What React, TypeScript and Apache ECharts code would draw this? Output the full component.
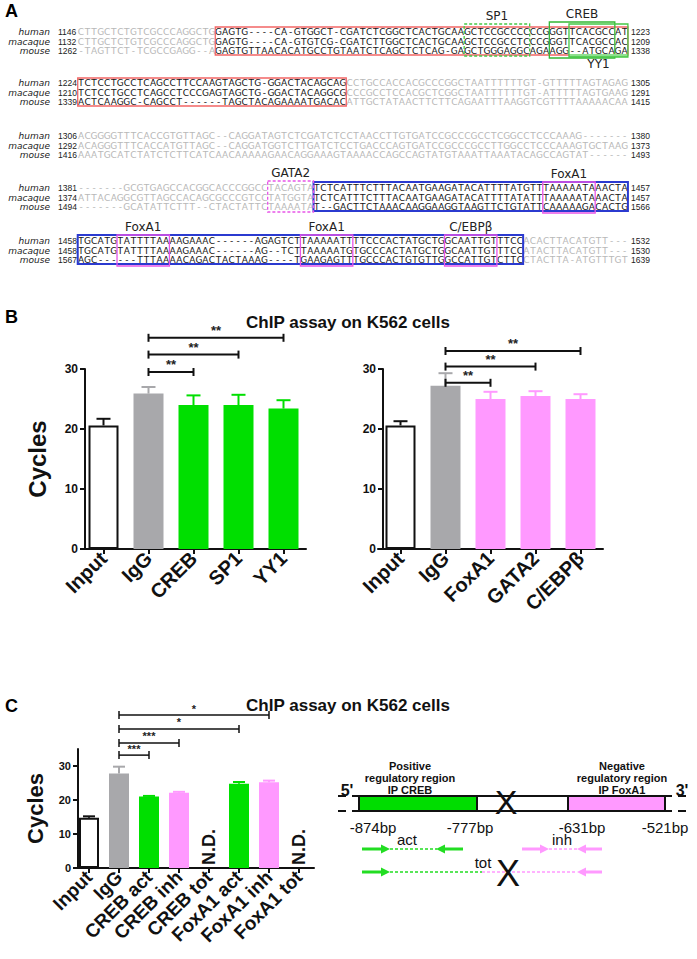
import React, { useEffect, useRef } from "react";
import * as echarts from "echarts";

const SANS = "'Liberation Sans', Arial, Helvetica, sans-serif";
const SEQF = "'DejaVu Sans', 'Liberation Sans', sans-serif";

// ---------------- Panel A data ----------------
const speciesNames = ["human", "macaque", "mouse"];
const seqStarts = [
  [1146, 1132, 1262],
  [1224, 1210, 1339],
  [1306, 1292, 1416],
  [1381, 1374, 1494],
  [1458, 1458, 1567],
];
const seqEnds = [
  [1223, 1209, 1338],
  [1305, 1291, 1415],
  [1380, 1373, 1493],
  [1457, 1457, 1566],
  [1532, 1530, 1639],
];
const seqRows = [
  [
    "CTTGCTCTGTCGCCCAGGCTGGAGTG----CA-GTGGCT-CGATCTCGGCTCACTGCAAGCTCCGCCCCCCGGGTTCACGCCAT",
    "CTTGCTCTGTCGCCCAGGCTGGAGTG----CA-GTGTCG-CGATCTTGGCTCACTGCAAGCTCCGCCTCCCGGGTTCACGCCAC",
    "-TAGTTCT-TCGCCGAGG--AGAGTGTTAACACATGCCTGTAATCTCAGCTCTCAG-GAGCTGGGAGGCAGAAGG--ATGCAGA",
  ],
  [
    "TCTCCTGCCTCAGCCTTCCAAGTAGCTG-GGACTACAGCAGCCTGCCACCACGCCCGGCTAATTTTTTGT-GTTTTTAGTAGAG",
    "TCTCCTGCCTCAGCCTCCCGAGTAGCTG-GGACTACAGGCGCCCGCCTCCACGCTCGGCTAATTTTTTGT-ATTTTTAGTGAAG",
    "ACTCAAGGC-CAGCCT------TAGCTACAGAAAATGACACATTGCTATAACTTCTTCAGAATTTAAGGTCGTTTTAAAAACAA",
  ],
  [
    "ACGGGGTTTCACCGTGTTAGC--CAGGATAGTCTCGATCTCCTAACCTTGTGATCCGCCCGCCTCGGCCTCCCAAAG-------",
    "ACAGGGTTTCACCATGTTAGC--CAGGATGGTCTTGATCTCCTGACCCAGTGATCCGCCCGCCTTGGCCTCCCAAAGTGCTAAG",
    "AAATGCATCTATCTCTTCATCAACAAAAAGAACAGGAAAGTAAAACCAGCCAGTATGTAAATTAAATACAGCCAGTAT------",
  ],
  [
    "-------GCGTGAGCCACGGCACCCGGCCTACAGTATCTCATTTCTTTACAATGAAGATACATTTTATGTTTAAAAATAAACTA",
    "ATTACAGGCGTTAGCCACAGCGCCCGTCCTATGGTATCTCATTTCTTTACAATGAAGATACATTTTATATTTAAAAATAAACTA",
    "-------GCATATTCTTT--CTACTATTCTAAAATAT--GACTTCTAAACAAGGAAGGTAAGTTCTGTATTCAAAAAGACACTG",
  ],
  [
    "TGCATGTATTTTAAAAGAAAC------AGAGTCTTAAAAATTTTCCCACTATGCTGGCAATTGTTTCCACACTTACATGTT---",
    "TGCATGTATTTTAAAAGAAAC------AG--TCTTAAAAATGTGCCCACTATGCTGGCAATTGTTTCCATACTTACATGTT---",
    "AGC------TTTAAAACAGACTACTAAAG----TGAAGAGTTTGCCCACTGTGTTGGCCATTGTCTTCCTACTTA-ATGTTTGT",
  ],
];
// column ranges printed dark (the boxed regions)
const darkRanges: (number[] | null)[] = [[21, 83], [0, 40], null, [36, 83], [0, 67]];
// sites: [block, firstCol, lastCol, kind, label, labelSide]
const siteBoxes: [number, number, number, string, string, string][] = [
  [0, 21, 83, "region", "", ""],
  [0, 59, 68, "sp1", "SP1", "top"],
  [0, 72, 81, "creb", "CREB", "top"],
  [0, 75, 83, "yy1", "YY1", "bottom"],
  [1, 0, 40, "region", "", ""],
  [3, 36, 83, "blue", "", ""],
  [3, 29, 35, "gata", "GATA2", "top"],
  [3, 71, 78, "fox", "FoxA1", "top"],
  [4, 0, 67, "blue", "", ""],
  [4, 6, 13, "fox", "FoxA1", "top"],
  [4, 34, 41, "fox", "FoxA1", "top"],
  [4, 56, 63, "fox", "C/EBPβ", "top"],
];

// ---------------- Panel B data ----------------
const bLeftCats = ["Input", "IgG", "CREB", "SP1", "YY1"];
const bLeftVals = [20.6, 25.9, 24.0, 24.0, 23.4];
const bLeftErr = [1.1, 1.1, 1.6, 1.7, 1.4];
const bLeftKinds = ["input", "igg", "green", "green", "green"];
const bLeftSig = [[1, 2, 29.5], [1, 3, 32.4], [1, 4, 35.2]];
const bLeftSigText = ["**", "**", "**"];

const bRightCats = ["Input", "IgG", "FoxA1", "GATA2", "C/EBPβ"];
const bRightVals = [20.6, 27.2, 25.0, 25.5, 25.0];
const bRightErr = [0.7, 2.1, 1.2, 0.8, 0.8];
const bRightKinds = ["input", "igg", "pink", "pink", "pink"];
const bRightSig = [[1, 2, 27.7], [1, 3, 30.4], [1, 4, 33.0]];
const bRightSigText = ["**", "**", "**"];

// ---------------- Panel C data ----------------
const cCats = ["Input", "IgG", "CREB act", "CREB inh", "CREB tot", "FoxA1 act", "FoxA1 inh", "FoxA1 tot"];
const cVals = [14.8, 27.8, 21.0, 22.1, null, 24.8, 25.2, null];
const cErr = [0.4, 2.0, 0.2, 0.3, null, 0.5, 0.5, null];
const cKinds = ["input", "igg", "green", "pink", "none", "green", "pink", "none"];
const cSig = [[1, 2, 33.2], [1, 3, 36.8], [1, 5, 40.9], [1, 6, 45.0]];
const cSigText = ["***", "***", "*", "*"];
const cNotDetected = [4, 7];
const yTicks = [0, 10, 20, 30];

const bpLabels = ["-874bp", "-777bp", "-631bp", "-521bp"];

// ---------------- styles ----------------
const COLORS: Record<string, string> = {
  input: "#ffffff",
  igg: "#a8a8ab",
  green: "#00df00",
  pink: "#ff99ff",
  none: "#ffffff",
};
const ERRCOL: Record<string, string> = {
  input: "#111111",
  igg: "#a8a8ab",
  green: "#00df00",
  pink: "#ff99ff",
  none: "#ffffff",
};
const BOXSTYLE: Record<string, any> = {
  region: { stroke: "#f26565", lw: 1.3, dash: null, top: 5, bot: 4 },
  sp1: { stroke: "#45c845", lw: 1.3, dash: [3, 2], top: 8, bot: 5 },
  creb: { stroke: "#35b835", lw: 1.3, dash: null, top: 10, bot: 7 },
  yy1: { stroke: "#45c845", lw: 1.3, dash: null, top: 8, bot: 6 },
  blue: { stroke: "#2b3ad0", lw: 2, dash: null, top: 6, bot: 4 },
  gata: { stroke: "#e855e8", lw: 1.3, dash: [3, 2], top: 7, bot: 5 },
  fox: { stroke: "#e855e8", lw: 1.3, dash: null, top: 6, bot: 6 },
};

function txt(x: number, y: number, text: string, font: string, fill = "#111", align = "center", vAlign = "middle", extra: any = {}) {
  return {
    type: "text",
    x,
    y,
    silent: true,
    ...extra,
    style: { text, font, fill, textAlign: align, textVerticalAlign: vAlign, align, verticalAlign: vAlign },
  };
}

function buildPanelA(): any[] {
  const X0 = 81;
  const PITCH = 6.55;
  const ROW = 9.5;
  const blockY = [32, 83, 136, 188, 241];
  const els: any[] = [];
  els.push(txt(5, 11, "A", `bold 18px ${SANS}`, "#000", "left"));
  blockY.forEach((by, b) => {
    for (let r = 0; r < 3; r++) {
      const y = by + r * ROW;
      els.push(txt(50, y, speciesNames[r], `italic 9px ${SEQF}`, "#222", "right"));
      els.push(txt(58, y, String(seqStarts[b][r]), `8.5px ${SANS}`, "#222", "left"));
      els.push(txt(631, y, String(seqEnds[b][r]), `8.5px ${SANS}`, "#222", "left"));
      const s = seqRows[b][r];
      const dr = darkRanges[b];
      for (let c = 0; c < s.length; c++) {
        const dark = dr && c >= dr[0] && c <= dr[1];
        els.push(txt(X0 + c * PITCH, y, s[c], `9px ${SEQF}`, dark ? "#151515" : "#b8b8b8"));
      }
    }
  });
  siteBoxes.forEach(([b, c0, c1, kind, label, side]) => {
    const st = BOXSTYLE[kind];
    const by = blockY[b];
    const x1 = X0 + c0 * PITCH - PITCH / 2;
    const x2 = X0 + c1 * PITCH + PITCH / 2;
    const y1 = by - st.top;
    const y2 = by + 2 * ROW + st.bot;
    if (kind === "yy1") {
      els.push({ type: "rect", silent: true, shape: { x: x1, y: y2 - 3, width: x2 - x1, height: 3 }, style: { fill: "#8fe08f" } });
    }
    els.push({
      type: "rect",
      silent: true,
      shape: { x: x1, y: y1, width: x2 - x1, height: y2 - y1 },
      style: { fill: "none", stroke: st.stroke, lineWidth: st.lw, lineDash: st.dash || undefined },
    });
    if (label) {
      const ly = side === "top" ? y1 - 8 : y2 + 7;
      els.push(txt((x1 + x2) / 2, ly, label, `12px ${SEQF}`, "#222"));
    }
  });
  return els;
}

function buildDiagram(): any[] {
  const G = "#22dd22";
  const P = "#ff99ff";
  const els: any[] = [];
  const top = 796;
  const bot = 811;
  const xl = 359;
  const xa = 477;
  const xb = 568;
  const xr = 665;
  const seg = (x1: number, x2: number, y: number, color: string, lw: number, dash?: number[]) => ({
    type: "line",
    silent: true,
    shape: { x1, y1: y, x2, y2: y },
    style: { stroke: color, lineWidth: lw, lineDash: dash },
  });
  const head = (tip: number, y: number, dir: number, color: string) => ({
    type: "polygon",
    silent: true,
    shape: { points: [[tip, y], [tip - dir * 9, y - 4.5], [tip - dir * 9, y + 4.5]] },
    style: { fill: color },
  });
  els.push({ type: "rect", silent: true, shape: { x: xl, y: top, width: xa - xl, height: bot - top }, style: { fill: "#00dd00" } });
  els.push({ type: "rect", silent: true, shape: { x: xb, y: top, width: xr - xb, height: bot - top }, style: { fill: P } });
  els.push({ type: "rect", silent: true, shape: { x: xl, y: top, width: xr - xl, height: bot - top }, style: { fill: "none", stroke: "#111", lineWidth: 2 } });
  els.push({ type: "line", silent: true, shape: { x1: xa, y1: top, x2: xa, y2: bot }, style: { stroke: "#111", lineWidth: 2 } });
  els.push({ type: "line", silent: true, shape: { x1: xb, y1: top, x2: xb, y2: bot }, style: { stroke: "#111", lineWidth: 2 } });
  [top, bot].forEach((y) => {
    els.push(seg(352, xl, y, "#111", 2));
    els.push(seg(xr, 672, y, "#111", 2));
    els.push(seg(338, 346, y, "#111", 2));
    els.push(seg(678, 686, y, "#111", 2));
  });
  els.push(txt(347, 790, "5'", `bold 16px ${SANS}`, "#111"));
  els.push(txt(682, 790, "3'", `bold 16px ${SANS}`, "#111"));
  ["Positive", "regulatory region", "IP CREB"].forEach((t, i) => els.push(txt(410, 766 + i * 12, t, `bold 11px ${SANS}`, "#111")));
  ["Negative", "regulatory region", "IP FoxA1"].forEach((t, i) => els.push(txt(622, 766 + i * 12, t, `bold 11px ${SANS}`, "#111")));
  els.push(txt(506, 802, "X", `34px ${SANS}`, "#111"));
  const bpX = [373, 470, 582, 665];
  bpLabels.forEach((t, i) => els.push(txt(bpX[i], 827, t, `15px ${SANS}`, "#111")));
  // act primers
  const ya = 849;
  els.push(seg(362, 381, ya, G, 3), head(390, ya, 1, G), seg(390, 437, ya, G, 1.5, [3, 2]), head(436, ya, -1, G), seg(444, 463, ya, G, 3));
  els.push(txt(407, 839, "act", `15px ${SANS}`, "#111"));
  // inh primers
  els.push(seg(522, 540, ya, P, 3), head(549, ya, 1, P), seg(549, 577, ya, P, 1.5, [3, 2]), head(577, ya, -1, P), seg(585, 602, ya, P, 3));
  els.push(txt(562, 839, "inh", `15px ${SANS}`, "#111"));
  // tot primers
  const yt = 872;
  els.push(seg(362, 381, yt, G, 3), head(390, yt, 1, G), seg(390, 482, yt, G, 1.5, [3, 2]), seg(482, 577, yt, P, 1.5, [3, 2]), head(577, yt, -1, P), seg(585, 602, yt, P, 3));
  els.push(txt(483, 862, "tot", `15px ${SANS}`, "#111"));
  els.push(txt(508, 873, "X", `36px ${SANS}`, "#111"));
  return els;
}

function mkX(gi: number, cats: string[], fs: number) {
  return {
    type: "category",
    gridIndex: gi,
    data: cats,
    axisLine: { show: true, lineStyle: { color: "#111", width: 2 } },
    axisTick: { show: true, alignWithLabel: true, length: 5, lineStyle: { color: "#111", width: 2 } },
    axisLabel: { rotate: 45, interval: 0, fontSize: fs, fontWeight: "bold", fontFamily: SANS, color: "#111", margin: 6 },
    splitLine: { show: false },
  };
}
function mkY(gi: number, max: number, offset: number, fs: number, name: string, nameFs: number, nameGap: number) {
  return {
    type: "value",
    gridIndex: gi,
    min: 0,
    max,
    interval: 10,
    offset,
    axisLine: { show: true, lineStyle: { color: "#111", width: 2 } },
    axisTick: { show: true, length: 5, lineStyle: { color: "#111", width: 2 }, customValues: yTicks },
    axisLabel: { fontSize: fs, fontWeight: "bold", fontFamily: SANS, color: "#111", margin: 7, customValues: yTicks },
    splitLine: { show: false },
    name,
    nameLocation: "middle",
    nameGap,
    nameTextStyle: { fontSize: nameFs, fontWeight: "bold", fontFamily: SANS, color: "#111" },
  };
}

function barSeries(gi: number, vals: (number | null)[], kinds: string[], width: number) {
  return {
    type: "bar",
    xAxisIndex: gi,
    yAxisIndex: gi,
    barWidth: width,
    silent: true,
    data: vals.map((v, i) => ({
      value: v == null ? "-" : v,
      itemStyle:
        kinds[i] === "input"
          ? { color: "#fff", borderColor: "#111", borderWidth: 2 }
          : { color: COLORS[kinds[i]] },
    })),
  };
}
function errSeries(gi: number, vals: (number | null)[], errs: (number | null)[], kinds: string[], cap: number) {
  const data: number[][] = [];
  vals.forEach((v, i) => {
    if (v != null && errs[i] != null) data.push([i, v, errs[i] as number]);
  });
  return {
    type: "custom",
    xAxisIndex: gi,
    yAxisIndex: gi,
    clip: false,
    silent: true,
    z: 5,
    data,
    renderItem: (params: any, api: any) => {
      const i = api.value(0);
      const v = api.value(1);
      const e = api.value(2);
      const p0 = api.coord([i, v]);
      const p1 = api.coord([i, v + e]);
      const col = ERRCOL[kinds[i]];
      return {
        type: "group",
        children: [
          { type: "line", shape: { x1: p0[0], y1: p0[1], x2: p1[0], y2: p1[1] }, style: { stroke: col, lineWidth: 2 } },
          { type: "line", shape: { x1: p1[0] - cap, y1: p1[1], x2: p1[0] + cap, y2: p1[1] }, style: { stroke: col, lineWidth: 2 } },
        ],
      };
    },
  };
}
function sigSeries(gi: number, sig: number[][], texts: string[], font: string, lw: number) {
  return {
    type: "custom",
    xAxisIndex: gi,
    yAxisIndex: gi,
    clip: false,
    silent: true,
    z: 6,
    encode: { x: 0, y: 2 },
    data: sig,
    renderItem: (params: any, api: any) => {
      const a = api.coord([api.value(0), api.value(2)]);
      const b = api.coord([api.value(1), api.value(2)]);
      const t = texts[params.dataIndex];
      return {
        type: "group",
        children: [
          { type: "line", shape: { x1: a[0], y1: a[1], x2: b[0], y2: b[1] }, style: { stroke: "#111", lineWidth: lw } },
          { type: "line", shape: { x1: a[0], y1: a[1] - 4, x2: a[0], y2: a[1] + 4 }, style: { stroke: "#111", lineWidth: lw } },
          { type: "line", shape: { x1: b[0], y1: b[1] - 4, x2: b[0], y2: b[1] + 4 }, style: { stroke: "#111", lineWidth: lw } },
          {
            type: "text",
            x: (a[0] + b[0]) / 2,
            y: a[1] - 1,
            style: { text: t, font, fill: "#222", textAlign: "center", textVerticalAlign: "bottom", align: "center", verticalAlign: "bottom" },
          },
        ],
      };
    },
  };
}
function ndSeries(gi: number) {
  return {
    type: "custom",
    xAxisIndex: gi,
    yAxisIndex: gi,
    clip: false,
    silent: true,
    z: 6,
    data: cNotDetected.map((i) => [i, 0]),
    renderItem: (params: any, api: any) => {
      const p = api.coord([api.value(0), api.value(1)]);
      return {
        type: "text",
        x: p[0],
        y: p[1] - 3,
        rotation: Math.PI / 2,
        style: { text: "N.D.", font: `bold 18px ${SANS}`, fill: "#111", textAlign: "left", textVerticalAlign: "middle", align: "left", verticalAlign: "middle" },
      };
    },
  };
}

function buildOption(): any {
  const graphics = [
    ...buildPanelA(),
    txt(5, 317, "B", `bold 18px ${SANS}`, "#000", "left"),
    txt(348, 322, "ChIP assay on K562 cells", `bold 17px ${SANS}`, "#111"),
    txt(5, 706, "C", `bold 18px ${SANS}`, "#000", "left"),
    txt(348, 705, "ChIP assay on K562 cells", `bold 17px ${SANS}`, "#111"),
    ...buildDiagram(),
  ];
  return {
    animation: false,
    backgroundColor: "#ffffff",
    grid: [
      { left: 81, top: 369, width: 225, height: 180 },
      { left: 378, top: 369, width: 225, height: 180 },
      { left: 74, top: 749, width: 240, height: 119 },
    ],
    xAxis: [mkX(0, bLeftCats, 20), mkX(1, bRightCats, 20), mkX(2, cCats, 19)],
    yAxis: [
      mkY(0, 30, -4, 12, "Cycles", 24, 36),
      mkY(1, 30, -5, 12, "", 24, 36),
      mkY(2, 35, -4, 11, "Cycles", 22, 32),
    ],
    series: [
      barSeries(0, bLeftVals, bLeftKinds, 30),
      errSeries(0, bLeftVals, bLeftErr, bLeftKinds, 7),
      sigSeries(0, bLeftSig, bLeftSigText, `bold 13px ${SANS}`, 2),
      barSeries(1, bRightVals, bRightKinds, 30),
      errSeries(1, bRightVals, bRightErr, bRightKinds, 7),
      sigSeries(1, bRightSig, bRightSigText, `bold 13px ${SANS}`, 2),
      barSeries(2, cVals, cKinds, 20),
      errSeries(2, cVals, cErr, cKinds, 6),
      sigSeries(2, cSig, cSigText, `bold 11px ${SANS}`, 1.5),
      ndSeries(2),
    ],
    graphic: { elements: graphics },
  };
}

export default function App() {
  const ref = useRef<HTMLDivElement>(null);
  useEffect(() => {
    const chart = echarts.init(ref.current as HTMLDivElement, undefined, { renderer: "svg" });
    chart.setOption(buildOption());
    return () => chart.dispose();
  }, []);
  return (
    <div
      ref={ref}
      style={{ position: "absolute", left: 0, top: 0, width: 697, height: 959, background: "#fff" }}
    />
  );
}
